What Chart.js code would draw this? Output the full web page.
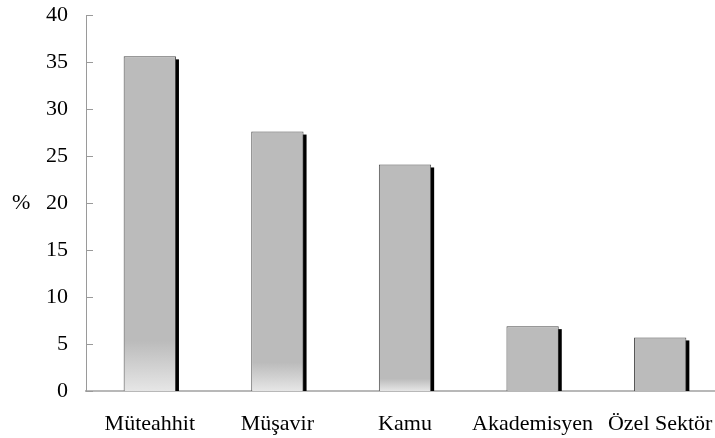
<!DOCTYPE html>
<html>
<head>
<meta charset="utf-8">
<script src="https://cdn.jsdelivr.net/npm/chart.js@4/dist/chart.umd.min.js"></script>
<style>
  html, body { margin: 0; padding: 0; background: #fff; overflow: hidden; }
  #wrap { width: 715px; height: 438px; overflow: hidden; position: relative; }
  canvas { display: block; }
</style>
</head>
<body>
<div id="wrap"><canvas id="c" width="730" height="438"></canvas></div>
<script>
const categories = ['Müteahhit', 'Müşavir', 'Kamu', 'Akademisyen', 'Özel Sektör'];
const values = [35.6, 27.6, 24.1, 6.9, 5.7];
const yTicks = [0, 5, 10, 15, 20, 25, 30, 35, 40];
const yTitle = '%';

// style: fraction of each bar height (from the base) that fades to a lighter gray
const fadeFractions = [0.15, 0.11, 0.055, 0, 0];

const FONT = 'Liberation Serif, Times New Roman, serif';

const shadowPlugin = {
  id: 'barShadow',
  beforeDatasetsDraw(chart) {
    const ctx = chart.ctx;
    const meta = chart.getDatasetMeta(0);
    ctx.save();
    ctx.fillStyle = '#000';
    meta.data.forEach(bar => {
      const p = bar.getProps(['x', 'y', 'base', 'width'], true);
      const right = p.x + p.width / 2;
      ctx.fillRect(right - 1, p.y + 3, 4, p.base - p.y - 3);
    });
    ctx.restore();
  }
};

const axisDecor = {
  id: 'axisDecor',
  afterDraw(chart) {
    const ctx = chart.ctx;
    const y = chart.scales.y;
    const left = chart.chartArea.left;
    ctx.save();
    ctx.strokeStyle = '#9a9a9a';
    ctx.lineWidth = 1;
    y.ticks.forEach(t => {
      const py = Math.round(y.getPixelForValue(t.value)) + 0.5;
      ctx.beginPath();
      ctx.moveTo(left, py);
      ctx.lineTo(left + 7, py);
      ctx.stroke();
    });
    // horizontal axis title "%"
    ctx.fillStyle = '#000';
    ctx.font = '22px ' + FONT;
    ctx.textAlign = 'left';
    ctx.textBaseline = 'middle';
    ctx.fillText(yTitle, 12, y.getPixelForValue(20));
    ctx.restore();
  }
};

new Chart(document.getElementById('c'), {
  type: 'bar',
  data: {
    labels: categories,
    datasets: [{
      data: values,
      backgroundColor: (context) => {
        const chart = context.chart;
        const area = chart.chartArea;
        if (!area || context.dataIndex === undefined) return '#bbbbbb';
        const frac = fadeFractions[context.dataIndex] || 0;
        if (frac <= 0) return '#bbbbbb';
        const ys = chart.scales.y;
        const v = values[context.dataIndex];
        const y0 = ys.getPixelForValue(0);
        const y1 = ys.getPixelForValue(v * frac);
        const g = chart.ctx.createLinearGradient(0, y1, 0, y0);
        g.addColorStop(0, '#bbbbbb');
        g.addColorStop(1, '#e6e6e6');
        return g;
      },
      borderColor: '#4a4a4a',
      borderWidth: 1,
      borderSkipped: 'bottom',
      barPercentage: 0.41,
      categoryPercentage: 1.0
    }]
  },
  options: {
    responsive: false,
    maintainAspectRatio: false,
    animation: false,
    devicePixelRatio: 1,
    layout: { padding: { top: 15, right: 6, bottom: 0, left: 0 } },
    plugins: {
      legend: { display: false },
      title: { display: false },
      tooltip: { enabled: false }
    },
    scales: {
      x: {
        grid: { display: false, drawTicks: false },
        border: { display: true, color: '#b8b8b8', width: 2 },
        ticks: { color: '#000', font: { family: FONT, size: 22 }, padding: 20, maxRotation: 0, autoSkip: false },
        afterFit: (scale) => {
          scale.paddingLeft = 0; scale.paddingRight = 0;
          scale.paddingTop = 0; scale.paddingBottom = 0;
          scale.height = 47;
        }
      },
      y: {
        min: 0,
        max: 40,
        afterBuildTicks: (scale) => { scale.ticks = yTicks.map(v => ({ value: v })); },
        grid: { display: false, drawTicks: false },
        border: { display: true, color: '#9a9a9a', width: 1 },
        ticks: { color: '#000', font: { family: FONT, size: 22 }, padding: 18 },
        afterFit: (scale) => { scale.width = 86; scale.paddingTop = 0; scale.paddingBottom = 0; }
      }
    }
  },
  plugins: [shadowPlugin, axisDecor]
});
</script>
</body>
</html>
